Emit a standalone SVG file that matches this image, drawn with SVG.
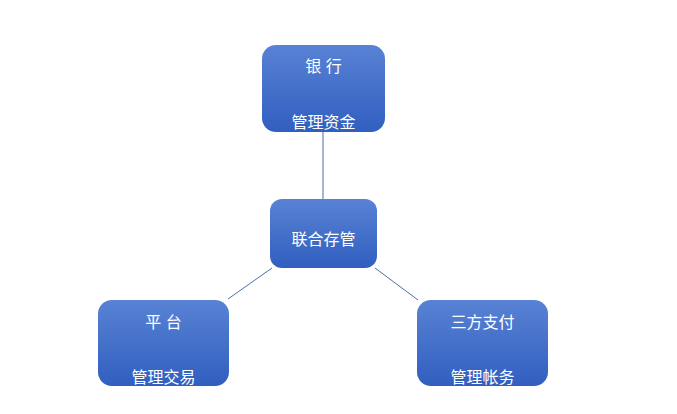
<svg xmlns="http://www.w3.org/2000/svg" width="677" height="414" viewBox="0 0 677 414">
<defs>
<linearGradient id="g" x1="0" y1="0" x2="0" y2="1">
<stop offset="0" stop-color="#5882d4"/>
<stop offset="1" stop-color="#315fc0"/>
</linearGradient>
<style>
.n{fill:url(#g);}
.t{font-family:"Liberation Sans","Noto Sans CJK SC",sans-serif;font-size:16px;fill:#fff;text-anchor:middle;}
.c{stroke:#4a6fa8;stroke-width:1;fill:none;}
</style>
</defs>
<rect width="677" height="414" fill="#fff"/>
<g id="connectors">
<line class="c" x1="323" y1="132" x2="323" y2="199"/>
<line class="c" x1="228" y1="299" x2="272" y2="268"/>
<line class="c" x1="375" y1="268" x2="418" y2="300"/>
</g>
<g id="bank">
<rect class="n" x="262" y="45" width="123" height="87" rx="14"/>
<text class="t" x="323.5" y="72">银 行</text>
<text class="t" x="323.5" y="128">管理资金</text>
</g>
<g id="center">
<rect class="n" x="270" y="199" width="107" height="69" rx="12"/>
<text class="t" x="323.5" y="245">联合存管</text>
</g>
<g id="platform">
<rect class="n" x="98" y="300" width="131" height="86" rx="14"/>
<text class="t" x="163.5" y="328">平 台</text>
<text class="t" x="163.5" y="383">管理交易</text>
</g>
<g id="third">
<rect class="n" x="417" y="300" width="131" height="86" rx="14"/>
<text class="t" x="482.5" y="328">三方支付</text>
<text class="t" x="482.5" y="383">管理帐务</text>
</g>
</svg>
